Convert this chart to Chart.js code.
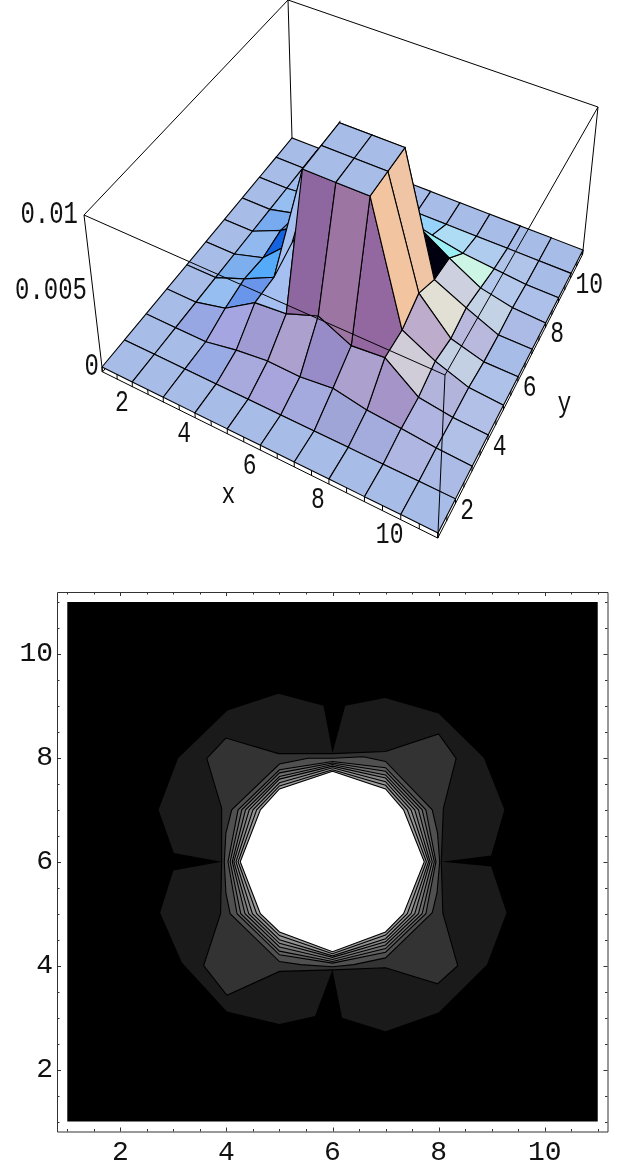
<!DOCTYPE html>
<html>
<head>
<meta charset="utf-8">
<script src="https://cdn.jsdelivr.net/npm/chart.js@4"></script>
<style>
  html, body { margin: 0; padding: 0; background: #fff; overflow: hidden; }
  canvas { position: absolute; left: 0; display: block; }
</style>
</head>
<body>
<canvas id="surfaceChart" width="618" height="570" style="top:0"></canvas>
<canvas id="contourChart" width="618" height="591" style="top:570px"></canvas>
<script>
// ---- surface heights, one row per y = 1..11, columns x = 1..11 ----
const surfaceRows = [
  [0, 0, 0, 0, 0, 0, 0, 0, 0, 0, 0],
  [0, 0, 0, 0, 0, 0, 0, 0, 0, 0, 0],
  [0, 0, 0, 0.0004, 0.00065, 0.0006, 0.00085, 0.00045, 0.0003, 0.0001, 0],
  [0, 0, 0.0005, 0.0018, 0.002, 0.0028, 0.0018, 0.002, 0.0004, 0.0001, 0],
  [0, 0, 0.0008, 0.0018, 0.01, 0.01, 0.01, 0.002, 0.0009, 0.00015, 0],
  [0, 0, 0.0006, 0.0025, 0.01, 0.01, 0.01, 0.0027, 0.0006, 0, 0],
  [0, 0, 0.0009, 0.0022, 0.01, 0.01, 0.01, 0.0019, 0.0009, 0, 0],
  [0, 0, 0.0005, 0.002, 0.003, 0.003, 0.003, 0.0017, 0.00055, 0.0001, 0],
  [0, 0, 0.0002, 0.0005, 0.0008, 0.0006, 0.0008, 0.0004, 0.0002, 0, 0],
  [0, 0, 0, 0, 0, 0, 0, 0, 0, 0, 0],
  [0, 0, 0, 0, 0, 0, 0, 0, 0, 0, 0]
];
const surfaceTop = 0.01;
const surfaceFloor = -0.00032;

const surfaceXLabels = [2, 4, 6, 8, 10];
const surfaceYLabels = [2, 4, 6, 8, 10];
const surfaceZLabels = ['0', '0.005', '0.01'];
const surfaceZValues = [0, 0.005, 0.01];
const surfaceMinorTicks = [1, 1.5, 2, 2.5, 3, 3.5, 4, 4.5, 5, 5.5, 6, 6.5, 7, 7.5, 8, 8.5, 9, 9.5, 10, 10.5, 11];

// cells whose shade does not follow the lamps below, keyed by x,y of the low corner
const cellPaints = {
  '5,4': '#8e66a0', '6,4': '#9d75a3', '7,4': '#9368a0',
  '7,5': '#f2c5a0', '7,6': '#f0c5a5', '7,7': '#000010',
  '4,4': '#a5c0f0', '4,5': '#a5c0f0', '4,6': '#a5c0f0', '4,7': '#a5c0f0',
  '3,3': '#a5a5e1', '4,3': '#a09bd2', '5,3': '#aca0cf', '6,3': '#988cc8', '7,3': '#aca0cf', '8,3': '#a594c8', '9,3': '#b0b4e1',
  '4,2': '#a8aade', '5,2': '#a7a5dc', '6,2': '#a5aade', '7,2': '#a0a5d7', '8,2': '#a3acdc',
  '8,4': '#d0ccd8', '8,5': '#beaccd', '8,6': '#e2e0d4', '8,7': '#cdd0de', '8,8': '#cdf5e6',
  '7,8': '#9bf0f5', '7,9': '#afdcf5', '6,9': '#96d2fa',
  '9,4': '#b2b4dc', '9,5': '#c3d0e4', '9,6': '#b9b9de', '9,7': '#c3d2e4', '9,8': '#b4c8eb',
  '3,5': '#55aafa', '3,6': '#1464e1', '3,7': '#7eb0f0', '3,8': '#96bef0', '3,4': '#6996eb',
  '2,4': '#96bef0', '2,5': '#7dafef', '2,6': '#91b9f0', '2,7': '#78aaf0', '2,8': '#96bef0'
};

// ---- contour plot ----
const contourTicks = [2, 4, 6, 8, 10];
const contourMinorTicks = [1, 1.5, 2.5, 3, 3.5, 4.5, 5, 5.5, 6.5, 7, 7.5, 8.5, 9, 9.5, 10.5, 11];
const contourRange = [[1, 1], [11, 1], [11, 11], [1, 11]];
const band1 = [[6, 8.09], [6.24, 9], [6.99, 9.15], [8, 8.85], [8.85, 8], [9.24, 7], [8.99, 6.12], [8.06, 6],
  [8.99, 5.91], [9.28, 5.02], [8.91, 4.02], [8, 3.1], [7, 2.74], [6.18, 3], [6, 3.92],
  [5.67, 3.03], [5, 2.88], [4.01, 3.12], [3.16, 4.06], [2.75, 5.02], [3, 5.83], [3.91, 6],
  [3.01, 6.17], [2.72, 7], [3.09, 7.99], [4.02, 8.91], [4.98, 9.23], [5.83, 9]];
const band2 = [[6, 8.08], [7, 8.12], [8, 8.46], [8.33, 7.99], [8.09, 7.03], [8.05, 6], [8.08, 5.01], [8.36, 4],
  [7.98, 3.65], [7, 3.96], [6, 3.92], [5, 3.89], [4.01, 3.43], [3.57, 4], [3.89, 5], [3.91, 6],
  [3.91, 7.03], [3.63, 7.99], [3.99, 8.38], [4.98, 8.08]];
const band3 = [[6, 7.99], [6.58, 8.02], [7, 7.93], [7.88, 7], [7.98, 6.55], [8.02, 6], [7.97, 5.4], [7.88, 5.02],
  [7, 4.15], [6.4, 4.02], [6, 3.98], [5.4, 4.02], [5, 4.08], [4.07, 5], [3.99, 5.4], [3.96, 6],
  [3.99, 6.55], [4.1, 7], [5, 7.88], [5.54, 7.99]];
const band4 = [[6, 7.93], [7, 7.81], [7.76, 7], [7.95, 6], [7.76, 5], [7, 4.26], [6, 4.05], [5, 4.21], [4.2, 5], [4.03, 6], [4.22, 7], [5, 7.77]];
const band5 = [[6, 7.9], [7, 7.74], [7.69, 7], [7.92, 6], [7.69, 5], [7, 4.33], [6, 4.08], [5, 4.28], [4.27, 5], [4.07, 6], [4.29, 7], [5, 7.71]];
const band6 = [[6, 7.87], [7, 7.67], [7.62, 7], [7.88, 6], [7.62, 5], [7, 4.4], [6, 4.12], [5, 4.36], [4.35, 5], [4.11, 6], [4.36, 7], [5, 7.64]];
const band7 = [[6, 7.84], [7, 7.61], [7.55, 7], [7.84, 6], [7.55, 5], [7, 4.46], [6, 4.16], [5, 4.43], [4.42, 5], [4.14, 6], [4.43, 7], [5, 7.59]];
const band8 = [[6, 7.81], [7, 7.54], [7.48, 7], [7.81, 6], [7.48, 5], [7, 4.52], [6, 4.19], [5, 4.5], [4.49, 5], [4.18, 6], [4.5, 7], [5, 7.52]];
const band9 = [[6, 7.77], [7, 7.47], [7.41, 7], [7.77, 6], [7.41, 5], [7, 4.59], [6, 4.23], [5, 4.58], [4.57, 5], [4.22, 6], [4.57, 7], [5, 7.46]];
const band10 = [[6, 7.74], [7, 7.4], [7.34, 7], [7.73, 6], [7.34, 5], [7, 4.65], [6, 4.27], [5, 4.65], [4.64, 5], [4.26, 6], [4.64, 7], [5, 7.4]];
const contourBands = [band1, band2, band3, band4, band5, band6, band7, band8, band9, band10];
const bandGrays = [26, 51, 80, 98, 110, 122, 134, 146, 158, 255];

// ---- projection of the box onto the page ----
function squareToQuad(q) {
  const [x0, y0] = q[0], [x1, y1] = q[1], [x2, y2] = q[2], [x3, y3] = q[3];
  const dx1 = x1 - x2, dx2 = x3 - x2, sx = x0 - x1 + x2 - x3;
  const dy1 = y1 - y2, dy2 = y3 - y2, sy = y0 - y1 + y2 - y3;
  const det = dx1 * dy2 - dx2 * dy1;
  const g = (sx * dy2 - dx2 * sy) / det, h = (dx1 * sy - sx * dy1) / det;
  const a = x1 - x0 + g * x1, b = x3 - x0 + h * x3, d = y1 - y0 + g * y1, e = y3 - y0 + h * y3;
  return (u, v) => {
    const w = g * u + h * v + 1;
    return [(a * u + b * v + x0) / w, (d * u + e * v + y0) / w];
  };
}
const baseMap = squareToQuad([[102, 367], [438, 533], [583, 250], [292, 138]]);
const topMap = squareToQuad([[84, 215], [445, 375], [598, 107], [288, 0]]);

function project(x, y, z) {
  const u = (x - 1) / 10, v = (y - 1) / 10, t = z / surfaceTop;
  const p0 = baseMap(u, v), p1 = topMap(u, v);
  return { x: p0[0] + (p1[0] - p0[0]) * t, y: p0[1] + (p1[1] - p0[1]) * t };
}

// ---- lighting, three coloured lamps in view coordinates ----
const viewDir = [0.169, -0.387, 0.906];
const viewRight = [0.917, 0.4, 0];
const viewUp = [-0.362, 0.831, 0.4225];
const lamps = [[0.7071, 0, 0.7071], [0.5774, 0.5774, 0.5774], [0, 0.7071, 0.7071]];
const lampGain = [1.03, 0.96, 0.97];

function dot(a, b) { return a[0] * b[0] + a[1] * b[1] + a[2] * b[2]; }

function cellColor(i, j) {
  const paint = cellPaints[(i + 1) + ',' + (j + 1)];
  if (paint) return paint;
  const h = 0.4 / surfaceTop;
  const z = (a, b) => surfaceRows[b][a] * h;
  let dzx = ((z(i + 1, j) - z(i, j)) + (z(i + 1, j + 1) - z(i, j + 1))) / 2 / 0.1;
  let dzy = ((z(i, j + 1) - z(i, j)) + (z(i + 1, j + 1) - z(i + 1, j))) / 2 / 0.1;
  // steep slopes come out much paler in the reference, so soften them
  const slope = Math.sqrt(dzx * dzx + dzy * dzy);
  const soft = 1 / (1 + 1.12 * slope);
  dzx *= soft;
  dzy *= soft;
  let n = [-dzx, -dzy, 1];
  const len = Math.sqrt(dot(n, n));
  n = n.map(c => c / len);
  const nv = [dot(n, viewRight), dot(n, viewUp), dot(n, viewDir)];
  const rgb = lamps.map((l, k) => Math.round(255 * Math.min(1, Math.max(0, dot(nv, l) * lampGain[k]))));
  return `rgb(${rgb[0]},${rgb[1]},${rgb[2]})`;
}

// ---- surface cells, nearest first since the first dataset is painted last ----
function cellDepth(i, j) {
  const cx = (i + 0.5) / 10, cy = (j + 0.5) / 10;
  const cz = (surfaceRows[j][i] + surfaceRows[j][i + 1] + surfaceRows[j + 1][i] + surfaceRows[j + 1][i + 1]) / 4 * 0.4 / surfaceTop;
  return dot([cx, cy, cz], viewDir);
}

function lineSet(points, width) {
  return { data: points, showLine: true, fill: false, borderColor: '#000', borderWidth: width || 1, pointRadius: 0, spanGaps: false };
}

const cells = [];
for (let j = 0; j < 10; j++) {
  for (let i = 0; i < 10; i++) cells.push({ i, j, depth: cellDepth(i, j) });
}
cells.sort((a, b) => b.depth - a.depth);

const cellSets = cells.map(({ i, j }) => {
  const pts = [[i, j], [i + 1, j], [i + 1, j + 1], [i, j + 1], [i, j]]
    .map(([a, b]) => project(a + 1, b + 1, surfaceRows[b][a]));
  return {
    data: pts, showLine: true, fill: 'shape', backgroundColor: cellColor(i, j),
    borderColor: '#000', borderWidth: 1.1, pointRadius: 0, tension: 0
  };
});

// box edges, the back ones lie under the surface and the front ones over it
const zf = surfaceFloor, zt = surfaceTop;
const frontEdges = [
  [project(1, 1, zt), project(11, 1, zt), project(11, 11, zt)],
  [project(11, 1, zf), project(11, 1, zt)],
  [project(1, 1, zf), project(11, 1, zf), project(11, 11, zf)]
];
const backEdges = [
  [project(1, 1, zf), project(1, 1, zt), project(1, 11, zt), project(11, 11, zt), project(11, 11, zf)],
  [project(1, 11, zf), project(1, 11, zt)],
  [project(1, 1, zf), project(1, 11, zf), project(11, 11, zf)]
];
const tickPoints = [];
surfaceMinorTicks.forEach(v => {
  tickPoints.push(project(v, 1, zf), project(v, 1, 0), { x: null, y: null });
  tickPoints.push(project(11, v, zf), project(11, v, 0), { x: null, y: null });
});

const surfaceLabelsPlugin = {
  id: 'surfaceLabels',
  afterDraw(chart) {
    const ctx = chart.ctx, sx = chart.scales.x, sy = chart.scales.y;
    const put = (text, p, dx, dy, align, size) => {
      ctx.save();
      ctx.translate(sx.getPixelForValue(p.x) + dx, sy.getPixelForValue(p.y) + dy);
      ctx.scale(1, 1.28);
      ctx.font = size + 'px "Liberation Mono"';
      ctx.fillStyle = '#111';
      ctx.textAlign = align;
      ctx.textBaseline = 'middle';
      ctx.fillText(text, 0, 0);
      ctx.restore();
    };
    surfaceXLabels.forEach(v => put(String(v), project(v, 1, zf), -11, 16, 'center', 23));
    surfaceYLabels.forEach(v => put(String(v), project(11, v, zf), 5, 7, 'left', 23));
    surfaceZLabels.forEach((t, k) => {
      const p = project(1, 1, surfaceZValues[k]);
      put(t, p, k === 0 ? -3 : -6, k === 0 ? 0 : 0, 'right', 24);
    });
    put('x', project(6.5, 1, zf), -49, 37, 'center', 23);
    put('y', project(11, 5.5, zf), 54, 9, 'center', 23);
  }
};

new Chart(document.getElementById('surfaceChart'), {
  type: 'scatter',
  data: {
    datasets: [
      ...frontEdges.map(p => lineSet(p, 1)),
      lineSet(tickPoints, 1),
      ...cellSets,
      ...backEdges.map(p => lineSet(p, 1))
    ]
  },
  options: {
    responsive: false,
    animation: false,
    events: [],
    layout: { padding: 0 },
    plugins: { legend: { display: false }, tooltip: { enabled: false } },
    scales: {
      x: { type: 'linear', min: 0, max: 618, display: false },
      y: { type: 'linear', min: 0, max: 570, reverse: true, display: false }
    }
  },
  plugins: [surfaceLabelsPlugin]
});

// ---- contour chart ----
function polySet(poly, gray, border) {
  return {
    data: poly.concat([poly[0]]).map(p => ({ x: p[0], y: p[1] })),
    showLine: true, fill: 'shape', backgroundColor: `rgb(${gray},${gray},${gray})`,
    borderColor: '#000', borderWidth: border, pointRadius: 0, tension: 0
  };
}

const frameTicksPlugin = {
  id: 'frameTicks',
  afterDraw(chart) {
    const ctx = chart.ctx, a = chart.chartArea, sx = chart.scales.x, sy = chart.scales.y;
    const mark = (v, len) => {
      const px = Math.round(sx.getPixelForValue(v)) + 0.5, py = Math.round(sy.getPixelForValue(v)) + 0.5;
      ctx.moveTo(px, a.bottom); ctx.lineTo(px, a.bottom - len);
      ctx.moveTo(px, a.top); ctx.lineTo(px, a.top + len);
      ctx.moveTo(a.left, py); ctx.lineTo(a.left + len, py);
      ctx.moveTo(a.right, py); ctx.lineTo(a.right - len, py);
    };
    ctx.save();
    ctx.strokeStyle = '#333';
    ctx.lineWidth = 1;
    ctx.beginPath();
    contourTicks.forEach(v => mark(v, 4));
    contourMinorTicks.forEach(v => mark(v, 2.5));
    ctx.rect(a.left + 0.5, a.top + 0.5, a.right - a.left, a.bottom - a.top);
    ctx.stroke();
    ctx.restore();
  }
};

const tickFont = { family: '"Liberation Mono"', size: 28 };

new Chart(document.getElementById('contourChart'), {
  type: 'scatter',
  data: {
    datasets: [
      ...contourBands.map((b, k) => polySet(b, bandGrays[k], k === 0 ? 0 : 1.1)).reverse(),
      polySet(contourRange, 0, 0)
    ]
  },
  options: {
    responsive: false,
    animation: false,
    events: [],
    layout: { padding: { top: 22, right: 10.5 } },
    plugins: { legend: { display: false }, tooltip: { enabled: false } },
    scales: {
      x: {
        type: 'linear', min: 0.806, max: 11.184,
        grid: { display: false, drawTicks: false }, border: { display: false },
        afterBuildTicks: s => { s.ticks = contourTicks.map(v => ({ value: v })); },
        afterFit: s => { s.height = 29.5; },
        ticks: { color: '#111', font: tickFont, padding: 4, maxRotation: 0, autoSkip: false }
      },
      y: {
        type: 'linear', min: 0.81, max: 11.19,
        grid: { display: false, drawTicks: false }, border: { display: false },
        afterBuildTicks: s => { s.ticks = contourTicks.map(v => ({ value: v })); },
        afterFit: s => { s.width = 57; },
        ticks: { color: '#111', font: tickFont, padding: 4, autoSkip: false }
      }
    }
  },
  plugins: [frameTicksPlugin]
});
</script>
</body>
</html>
